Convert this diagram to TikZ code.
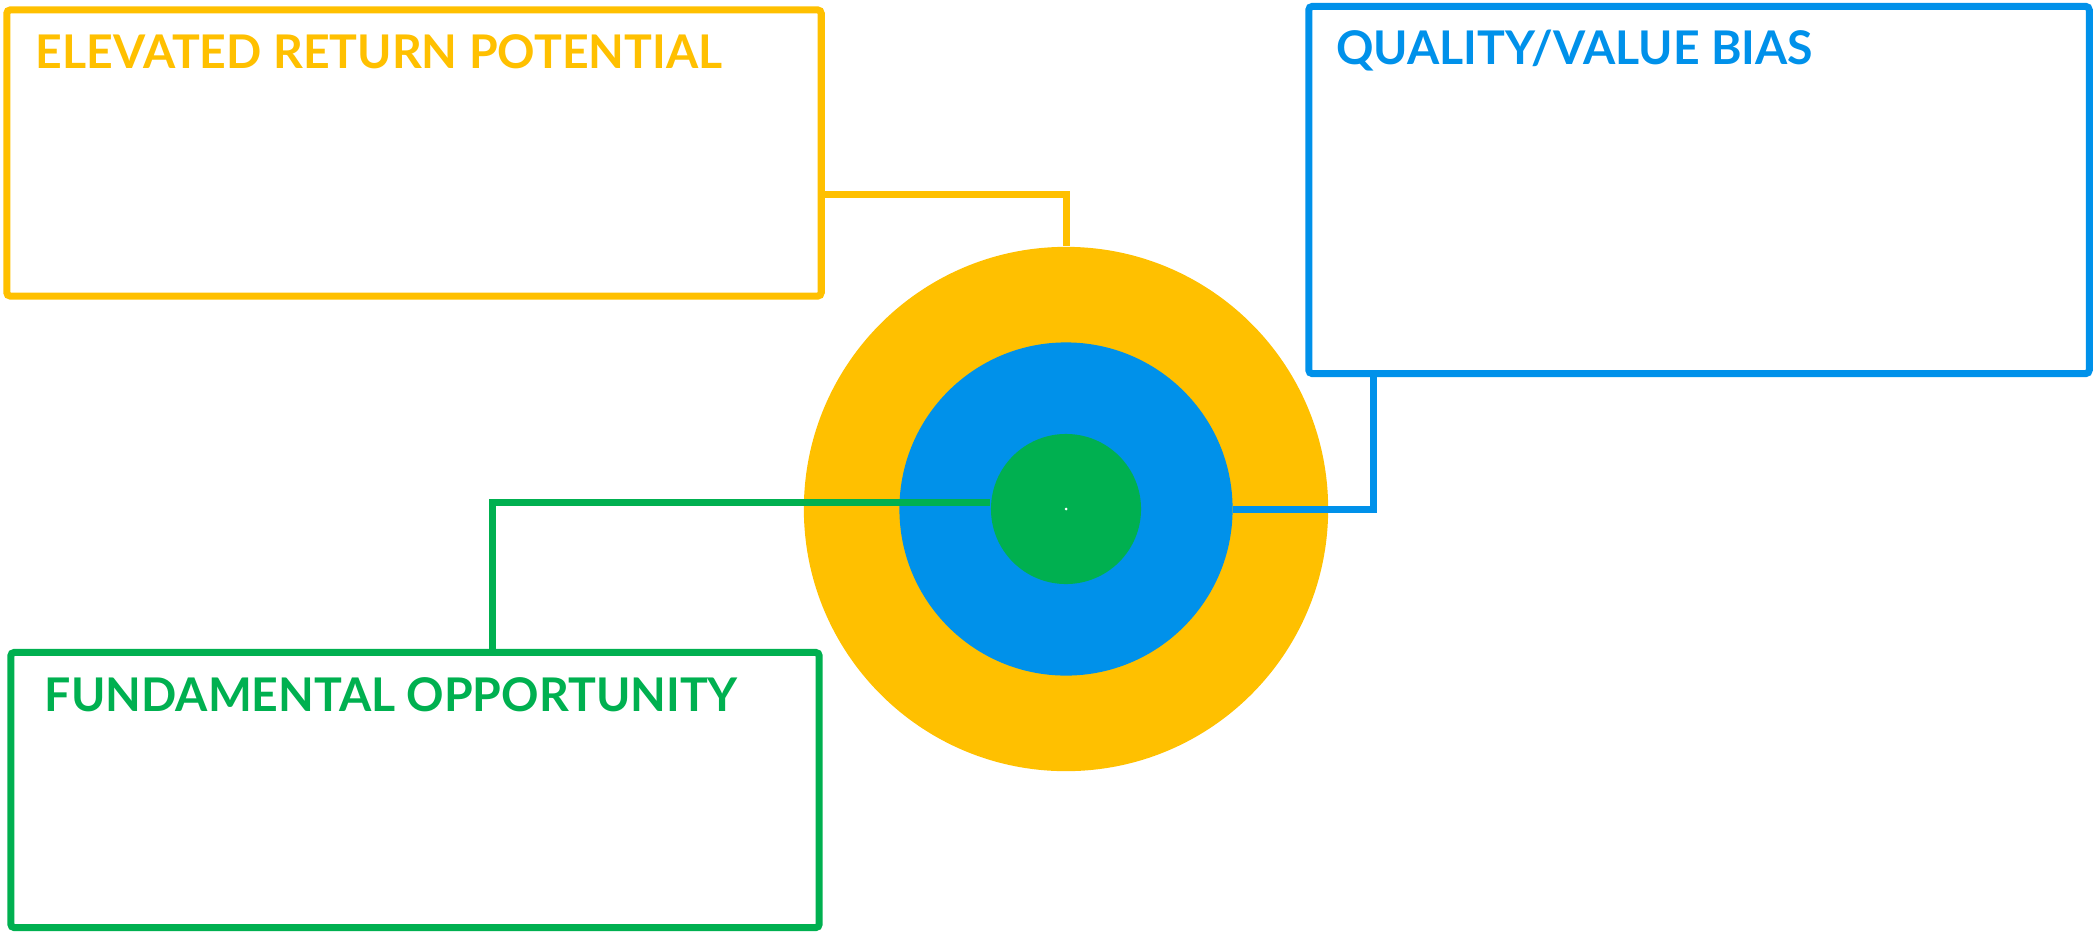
\documentclass[tikz,border=0pt]{standalone}
\usepackage{fontspec}
\setmainfont{Lato}
\usetikzlibrary{positioning,calc}
\definecolor{gold}{HTML}{FFC000}
\definecolor{azure}{HTML}{0091EA}
\definecolor{leaf}{HTML}{00B050}

\begin{document}
\begin{tikzpicture}[
  x=0.01cm, y=-0.01cm,
  font=\fontsize{13.2}{16}\selectfont\bfseries,
  panel/.style={draw, line width=0.07cm, rounded corners=1pt, inner sep=0pt},
  ttl/.style={inner sep=0pt, anchor=north west},
  ring/.style={circle, inner sep=0pt},
  link/.style={line width=0.07cm}
]
  \useasboundingbox (0,0) rectangle (2094,939);

  % target rings
  \node[ring, fill=gold, minimum size=5.24cm] (outer) at (1066,509) {};
  \node[ring, fill=azure, minimum size=3.33cm] (mid) at (outer) {};
  \node[ring, fill=leaf, minimum size=1.5cm] (inner) at (outer) {};
  \fill[white] (inner.center) circle (1.5);

  % panels
  \node[panel, draw=gold, minimum width=8.14cm, minimum height=2.86cm] (retbox) at (414,153) {};
  \node[panel, draw=azure, minimum width=7.80cm, minimum height=3.67cm] (valbox) at (1699,190) {};
  \node[panel, draw=leaf, minimum width=8.08cm, minimum height=2.75cm] (fundbox) at (415,790) {};

  \node[ttl, text=gold] (rettxt) at ([xshift=0.32cm, yshift=-0.27cm]retbox.north west) {ELEVATED RETURN POTENTIAL};
  \node[ttl, text=azure] (valtxt) at ([xshift=0.30cm, yshift=-0.26cm]valbox.north west) {QUALITY/VALUE BIAS};
  \node[ttl, text=leaf] (fundtxt) at ([xshift=0.37cm, yshift=-0.28cm]fundbox.north west) {FUNDAMENTAL OPPORTUNITY};

  % connectors
  \draw[link, gold] ([yshift=-0.41cm]retbox.east) -| (outer.north);
  \draw[link, azure] ([xshift=0.68cm]valbox.south west) |- (mid.east);
  \draw[link, leaf] ([xshift=4.85cm]fundbox.north west) |- ([yshift=0.07cm]inner.west);
\end{tikzpicture}
\end{document}
